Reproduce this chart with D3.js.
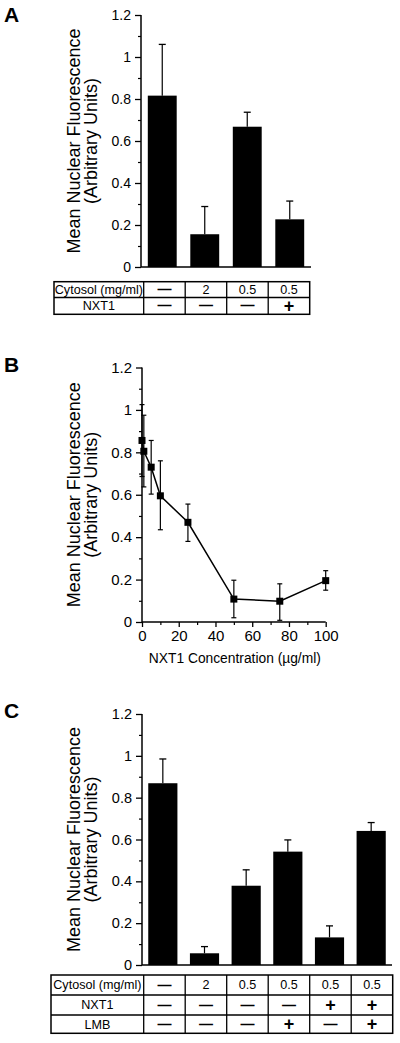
<!DOCTYPE html>
<html><head><meta charset="utf-8">
<script src="https://cdn.jsdelivr.net/npm/d3@7"></script>
<style>
body{margin:0;background:#fff;}
svg{display:block;font-family:"Liberation Sans",Arial,Helvetica,sans-serif;}
</style></head>
<body><svg id="c" width="400" height="1043"></svg>
<script>
// ---- Data ----
const yTicks = [0, 0.2, 0.4, 0.6, 0.8, 1, 1.2];
const yTickLabels = ["0", "0.2", "0.4", "0.6", "0.8", "1", "1.2"];
const yTitle1 = "Mean Nuclear Fluorescence";
const yTitle2 = "(Arbitrary Units)";

// Panel A
const aCats = ["a1", "a2", "a3", "a4"];
const aValues = [0.816, 0.156, 0.668, 0.227];
const aErrTop = [1.06, 0.288, 0.737, 0.314];
const aRowLabels = ["Cytosol (mg/ml)", "NXT1"];
const aCytosol = ["—", "2", "0.5", "0.5"];
const aNXT1 = ["—", "—", "—", "+"];

// Panel B
const bConc = [0, 1, 5, 10, 25, 50, 75, 100];
const bValues = [0.856, 0.805, 0.73, 0.595, 0.47, 0.108, 0.098, 0.195];
const bErrHi = [1.025, 0.975, 0.856, 0.76, 0.556, 0.197, 0.18, 0.242];
const bErrLo = [0.686, 0.637, 0.603, 0.435, 0.38, 0.02, 0.008, 0.15];
const bXTicks = [0, 20, 40, 60, 80, 100];
const bXTitle = "NXT1 Concentration (µg/ml)";

// Panel C
const cCats = ["c1", "c2", "c3", "c4", "c5", "c6"];
const cValues = [0.869, 0.056, 0.379, 0.542, 0.132, 0.641];
const cErrTop = [0.985, 0.088, 0.455, 0.598, 0.187, 0.681];
const cRowLabels = ["Cytosol (mg/ml)", "NXT1", "LMB"];
const cCytosol = ["—", "2", "0.5", "0.5", "0.5", "0.5"];
const cNXT1 = ["—", "—", "—", "—", "+", "+"];
const cLMB = ["—", "—", "—", "+", "—", "+"];

const svg = d3.select("#c");
const AX = 1.5;

function yAxis(g, y, x0, fs) {
  const ax = d3.axisLeft(y).tickValues(yTicks).tickSize(6).tickPadding(4)
    .tickFormat((d, i) => yTickLabels[i]);
  const gg = g.append("g").attr("transform", `translate(${x0},0)`).call(ax);
  gg.select(".domain").remove();
  gg.selectAll(".tick line").attr("stroke", "#000").attr("stroke-width", 1.3);
  gg.selectAll(".tick text").attr("font-size", fs).attr("fill", "#000")
    .attr("font-family", "Liberation Sans, Arial, sans-serif");
  const minor = d3.axisLeft(y).tickValues([0.1, 0.3, 0.5, 0.7, 0.9, 1.1]).tickSize(3).tickFormat("");
  const gm = g.append("g").attr("transform", `translate(${x0},0)`).call(minor);
  gm.select(".domain").remove();
  gm.selectAll(".tick line").attr("stroke", "#000").attr("stroke-width", 1.2);
  g.append("line").attr("x1", x0).attr("x2", x0).attr("y1", y(1.2)).attr("y2", y(0))
    .attr("stroke", "#000").attr("stroke-width", AX);
}

function yTitle(g, y) {
  const cy = (y(0) + y(1.2)) / 2;
  g.append("text").attr("transform", `translate(80,${cy}) rotate(-90)`)
    .attr("text-anchor", "middle").attr("font-size", 18).text(yTitle1);
  g.append("text").attr("transform", `translate(97,${cy}) rotate(-90)`)
    .attr("text-anchor", "middle").attr("font-size", 18).text(yTitle2);
}

function panelLabel(g, txt, yb) {
  g.append("text").attr("x", 4).attr("y", yb).attr("font-size", 21).attr("font-weight", "bold").text(txt);
}

function barPanel(g, cats, vals, errs, y, xr, pad) {
  const x = d3.scaleBand().domain(cats).range(xr).paddingInner(pad).paddingOuter(pad / 2);
  cats.forEach((c, i) => {
    const cx = x(c) + x.bandwidth() / 2;
    g.append("line").attr("x1", cx).attr("x2", cx).attr("y1", y(vals[i])).attr("y2", y(errs[i]))
      .attr("stroke", "#000").attr("stroke-width", 1.2);
    g.append("line").attr("x1", cx - 3.5).attr("x2", cx + 3.5).attr("y1", y(errs[i])).attr("y2", y(errs[i]))
      .attr("stroke", "#000").attr("stroke-width", 1.3);
  });
  g.selectAll("rect.bar").data(cats).enter().append("rect").attr("class", "bar")
    .attr("x", c => x(c)).attr("width", x.bandwidth())
    .attr("y", (c, i) => y(vals[i])).attr("height", (c, i) => y(0) - y(vals[i]))
    .attr("fill", "#000");
  g.append("line").attr("x1", xr[0]).attr("x2", xr[1]).attr("y1", y(0)).attr("y2", y(0))
    .attr("stroke", "#000").attr("stroke-width", AX);
}

function table(g, left, colRange, rowYs, rowLabels, rows, cats) {
  const xc = d3.scaleBand().domain(cats).range(colRange);
  const right = colRange[1];
  const top = rowYs[0], bot = rowYs[rowYs.length - 1];
  g.append("rect").attr("x", left).attr("y", top).attr("width", right - left).attr("height", bot - top)
    .attr("fill", "none").attr("stroke", "#000").attr("stroke-width", 1.5);
  rowYs.slice(1, -1).forEach(yy => g.append("line").attr("x1", left).attr("x2", right)
    .attr("y1", yy).attr("y2", yy).attr("stroke", "#000").attr("stroke-width", 1.3));
  [colRange[0]].concat(cats.slice(1).map(c => xc(c))).forEach(xx =>
    g.append("line").attr("x1", xx).attr("x2", xx).attr("y1", top).attr("y2", bot)
      .attr("stroke", "#000").attr("stroke-width", 1.3));
  rowLabels.forEach((lab, r) => {
    const yc = (rowYs[r] + rowYs[r + 1]) / 2;
    g.append("text").attr("x", (left + colRange[0]) / 2).attr("y", yc + 4.4)
      .attr("text-anchor", "middle").attr("font-size", 12.6).text(lab);
    rows[r].forEach((v, i) => {
      const cx = xc(cats[i]) + xc.bandwidth() / 2;
      const t = g.append("text").attr("x", cx).attr("text-anchor", "middle").text(v);
      if (v === "+") t.attr("y", yc + 5.8).attr("font-size", 18).attr("font-weight", "bold");
      else if (v === "—") t.attr("y", yc + 4.5).attr("font-size", 14).attr("font-weight", "bold");
      else t.attr("y", yc + 4.4).attr("font-size", 12.6);
    });
  });
}

// ---- Panel A ----
{
  const g = svg.append("g");
  const y = d3.scaleLinear().domain([0, 1.2]).range([267, 15]);
  panelLabel(g, "A", 22);
  yTitle(g, y);
  barPanel(g, aCats, aValues, aErrTop, y, [141, 311], 0.32);
  yAxis(g, y, 141, 14);
  table(g, 54, [143.7, 309.7], [281.7, 297.5, 314.3], aRowLabels, [aCytosol, aNXT1], aCats);
}

// ---- Panel B ----
{
  const g = svg.append("g");
  const y = d3.scaleLinear().domain([0, 1.2]).range([622, 367.5]);
  const x = d3.scaleLinear().domain([0, 100]).range([142, 325.7]);
  panelLabel(g, "B", 372);
  yTitle(g, y);
  const xa = d3.axisBottom(x).tickValues(bXTicks).tickSize(5).tickPadding(3);
  const gx = g.append("g").attr("transform", `translate(0,${y(0)})`).call(xa);
  gx.select(".domain").remove();
  gx.selectAll(".tick line").attr("stroke", "#000").attr("stroke-width", 1.3);
  gx.selectAll(".tick text").attr("font-size", 15).attr("fill", "#000")
    .attr("font-family", "Liberation Sans, Arial, sans-serif");
  const xm = d3.axisBottom(x).tickValues([10, 30, 50, 70, 90]).tickSize(3).tickFormat("");
  const gxm = g.append("g").attr("transform", `translate(0,${y(0)})`).call(xm);
  gxm.select(".domain").remove();
  gxm.selectAll(".tick line").attr("stroke", "#000").attr("stroke-width", 1.2);
  g.append("line").attr("x1", x(0)).attr("x2", x(100)).attr("y1", y(0)).attr("y2", y(0))
    .attr("stroke", "#000").attr("stroke-width", AX);
  g.append("text").attr("x", (x(0) + x(100)) / 2 + 1).attr("y", 663).attr("text-anchor", "middle")
    .attr("font-size", 13.8).text(bXTitle);
  yAxis(g, y, 142, 15);
  bConc.forEach((c, i) => {
    const cx = x(c);
    g.append("line").attr("x1", cx).attr("x2", cx).attr("y1", y(bErrLo[i])).attr("y2", y(bErrHi[i]))
      .attr("stroke", "#000").attr("stroke-width", 1.2);
    [bErrLo[i], bErrHi[i]].forEach(v => g.append("line").attr("x1", cx - 2.5).attr("x2", cx + 2.5)
      .attr("y1", y(v)).attr("y2", y(v)).attr("stroke", "#000").attr("stroke-width", 1.2));
  });
  const line = d3.line().x((d, i) => x(bConc[i])).y(d => y(d));
  g.append("path").attr("d", line(bValues)).attr("fill", "none").attr("stroke", "#000").attr("stroke-width", 1.5);
  g.selectAll("rect.pt").data(bValues).enter().append("rect").attr("class", "pt")
    .attr("x", (d, i) => x(bConc[i]) - 3.5).attr("y", d => y(d) - 3.5)
    .attr("width", 7).attr("height", 7).attr("fill", "#000");
}

// ---- Panel C ----
{
  const g = svg.append("g");
  const y = d3.scaleLinear().domain([0, 1.2]).range([965, 714]);
  panelLabel(g, "C", 718);
  yTitle(g, y);
  barPanel(g, cCats, cValues, cErrTop, y, [142, 392], 0.3);
  yAxis(g, y, 142, 14.5);
  table(g, 51, [143.7, 392.7], [975, 995, 1015, 1033.3], cRowLabels, [cCytosol, cNXT1, cLMB], cCats);
}
</script>
</body></html>
